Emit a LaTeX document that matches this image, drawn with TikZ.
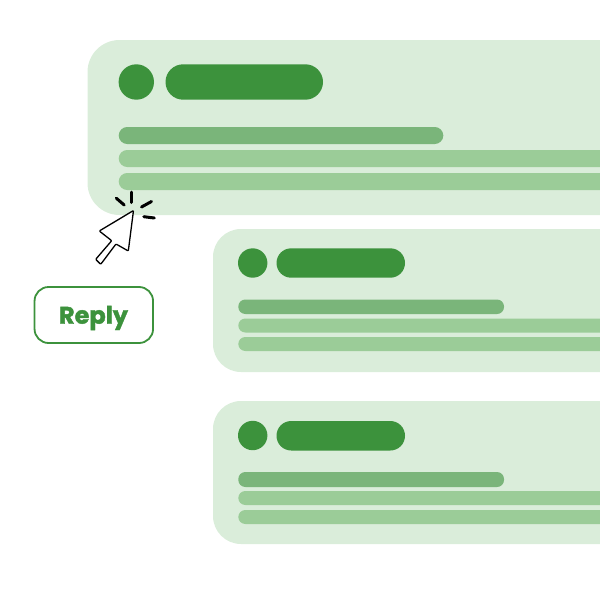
\documentclass[tikz,border=0pt]{standalone}
\usepackage{fontspec}
\setmainfont{Poppins}
\newfontfamily\replyfont{Poppins}[UprightFont=* Bold,FakeBold=1.6]
\definecolor{cardbg}{HTML}{DAEDDA}
\definecolor{dark}{HTML}{3C923C}
\definecolor{barone}{HTML}{7AB57A}
\definecolor{bartwo}{HTML}{9BCC98}
\begin{document}
\begin{tikzpicture}[x=1pt,y=-1pt,
  ray/.style={line width=3pt,line cap=round,black}]
\useasboundingbox (0,0) rectangle (600,600);
\clip (0,0) rectangle (600,600);
% card 1
\fill[cardbg,rounded corners=32pt] (87.5,40) rectangle (680,215);
\fill[dark] (136.3,82) circle[radius=17.7];
\fill[dark,rounded corners=17.7pt] (165.5,64.3) rectangle (323,99.7);
\fill[barone,rounded corners=8.5pt] (118.7,127) rectangle (443.3,144);
\fill[bartwo,rounded corners=8.5pt] (118.7,150) rectangle (680,167);
\fill[bartwo,rounded corners=8.5pt] (118.7,173) rectangle (680,190);
% card 2
\fill[cardbg,rounded corners=28pt] (213,229) rectangle (680,372);
\fill[dark] (252.7,263) circle[radius=14.7];
\fill[dark,rounded corners=14.7pt] (276.5,248.3) rectangle (405,277.7);
\fill[barone,rounded corners=7pt] (238.3,299.5) rectangle (504,314);
\fill[bartwo,rounded corners=7pt] (238.3,318.5) rectangle (680,332.5);
\fill[bartwo,rounded corners=7pt] (238.3,337) rectangle (680,351);
% card 3
\fill[cardbg,rounded corners=28pt] (213,401) rectangle (680,544);
\fill[dark] (252.7,435.5) circle[radius=14.7];
\fill[dark,rounded corners=14.7pt] (276.5,421) rectangle (405,450.5);
\fill[barone,rounded corners=7pt] (238.3,472) rectangle (504,487);
\fill[bartwo,rounded corners=7pt] (238.3,491) rectangle (680,505);
\fill[bartwo,rounded corners=7pt] (238.3,510) rectangle (680,524);
% cursor
\draw[black,fill=white,line width=1.3pt,line join=round,rounded corners=0.8pt]
  (133.5,210.5) -- (99.3,231) -- (111.7,240.7) -- (95.7,259.3)
  -- (100.7,264.3) -- (116,244) -- (128.3,251) -- cycle;
\draw[ray] (131.7,192.2) -- (131.7,202.5);
\draw[ray] (116.3,198.2) -- (124.2,205);
\draw[ray] (141.5,207) -- (151.5,201.5);
\draw[ray] (143.8,216.7) -- (154.3,218);
% button
\node[draw=dark,fill=white,line width=1.8pt,rounded corners=14pt,minimum width=118.5pt,minimum height=56pt,inner sep=0pt] (reply) at (93.8,315) {};
\node[text=dark,font=\replyfont\fontsize{24}{24}\selectfont,inner sep=0pt] (replytext) at (93.5,318) {Reply};
\end{tikzpicture}
\end{document}
